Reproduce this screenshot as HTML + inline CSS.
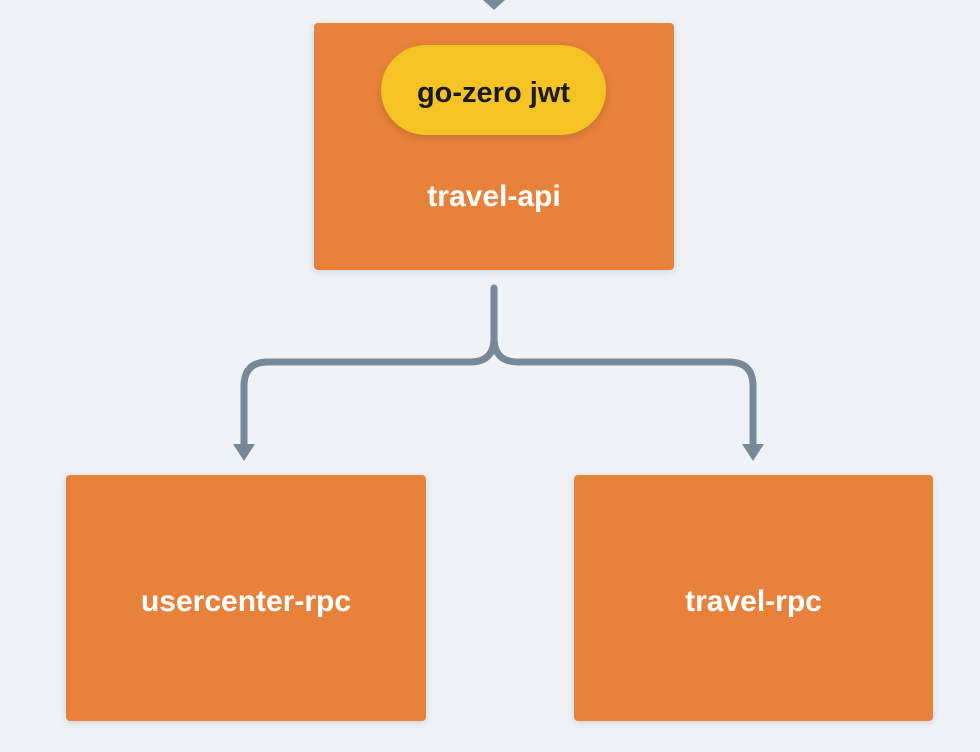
<!DOCTYPE html>
<html><head><style>
html,body{margin:0;padding:0;width:980px;height:752px;background:#eff3f7;overflow:hidden;font-family:"Liberation Sans",sans-serif;}
.box{position:absolute;background:#e8823a;border-radius:4px;box-shadow:0 2px 8px rgba(0,0,0,0.12);color:#fff;font-size:30px;font-weight:bold;display:flex;align-items:center;justify-content:center;}
.pill{position:absolute;left:381px;top:45px;width:225px;height:90px;border-radius:45px;background:#f6c324;color:#1a1a1a;font-size:29px;font-weight:bold;display:flex;align-items:center;justify-content:center;box-shadow:0 3px 8px rgba(0,0,0,0.15);}
</style></head><body>
<svg width="980" height="752" style="position:absolute;left:0;top:0">
<polygon points="483,0 505,0 494,10" fill="#778896"/>
<path d="M494,288 V338 Q494,362 470,362 H268 Q244,362 244,386 V446 M494,338 Q494,362 518,362 H729 Q753,362 753,386 V446" fill="none" stroke="#778896" stroke-width="7" stroke-linecap="round"/>
<polygon points="233,444 255,444 244,461" fill="#778896"/>
<polygon points="742,444 764,444 753,461" fill="#778896"/>
</svg>
<div class="box" style="left:314px;top:23px;width:360px;height:247px;padding-top:100px;box-sizing:border-box;">travel-api</div>
<div class="pill"><span style="position:relative;top:3px">go-zero jwt</span></div>
<div class="box" style="left:66px;top:475px;width:360px;height:246px;"><span style="position:relative;top:4px">usercenter-rpc</span></div>
<div class="box" style="left:574px;top:475px;width:359px;height:246px;"><span style="position:relative;top:4px">travel-rpc</span></div>
</body></html>
